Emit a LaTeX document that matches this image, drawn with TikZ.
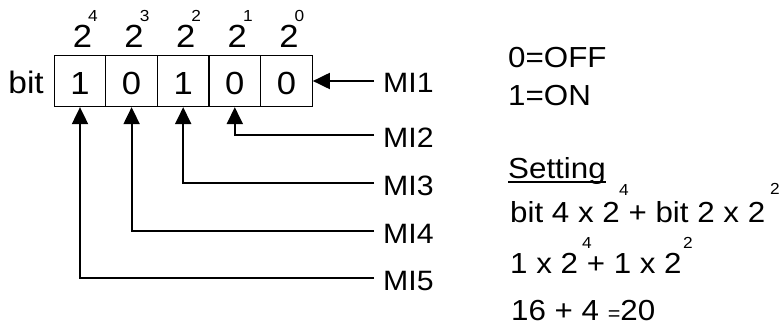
\documentclass[tikz,border=0pt]{standalone}
\usepackage{fontspec}
\setmainfont{Liberation Sans}[FakeStretch=1.08]
\usetikzlibrary{arrows.meta}
\begin{document}
\begin{tikzpicture}[x=1pt,y=-1pt,
  cell/.style={draw, line width=1.3pt, minimum width=51.6pt, minimum height=51pt,
    inner sep=0pt, text height=28pt, text depth=0pt, font=\fontsize{32}{32}\selectfont},
  pow/.style={anchor=base, inner sep=0pt, font=\fontsize{32}{32}\selectfont},
  sup/.style={anchor=base west, inner sep=0pt, font=\fontsize{16}{16}\selectfont},
  mi/.style={anchor=base west, inner sep=0pt, font=\fontsize{28}{28}\selectfont},
  txt/.style={anchor=base west, inner sep=0pt, font=\fontsize{29}{29}\selectfont},
  conn/.style={line width=2pt},
  arr/.style={conn, -{Triangle[length=17pt,width=16pt]}}]
\useasboundingbox (0,0) rectangle (781,326);
% cells
\node[cell] (c1) at (80,81) {1};
\node[cell] (c2) at (131.6,81) {0};
\node[cell] (c3) at (183.2,81) {1};
\node[cell] (c4) at (234.8,81) {0};
\node[cell] (c5) at (286.4,81) {0};
\node[anchor=base east, inner sep=0pt, font=\fontsize{31}{31}\selectfont] (bit) at (44,94) {bit};
% powers
\node[pow] (t1) at (82.5,48) {2};
\node[sup] (s1) at (88,21.5) {4};
\node[pow] (t2) at (134.1,48) {2};
\node[sup] (s2) at (139.6,21.5) {3};
\node[pow] (t3) at (185.7,48) {2};
\node[sup] (s3) at (191.2,21.5) {2};
\node[pow] (t4) at (237.3,48) {2};
\node[sup] (s4) at (242.8,21.5) {1};
\node[pow] (t5) at (288.9,48) {2};
\node[sup] (s5) at (294.4,21.5) {0};
% MI labels
\coordinate (p1) at (374,81);
\coordinate (p2) at (374,135);
\coordinate (p3) at (374,183);
\coordinate (p4) at (374,231);
\coordinate (p5) at (374,278);
\node[mi] (m1) at (383,93) {MI1};
\node[mi] (m2) at (383,147) {MI2};
\node[mi] (m3) at (383,195) {MI3};
\node[mi] (m4) at (383,243) {MI4};
\node[mi] (m5) at (383,290) {MI5};
\draw[arr] (p1) -- (c5.east);
\draw[arr] (p2) -| (c4.south);
\draw[arr] (p3) -| (c3.south);
\draw[arr] (p4) -| (c2.south);
\draw[arr] (p5) -| (c1.south);
% right text
\node[txt] (off) at (508,68) {0=OFF};
\node[txt] (on) at (508,106) {1=ON};
\node[txt] (set) at (508,178) {Setting};
\draw[line width=1.3pt] ([yshift=-4pt]set.base west) -- ([yshift=-4pt]set.base east);
\node[txt] (l2) at (510,222) {bit 4 x 2 + bit 2 x 2};
\node[sup] (l2a) at (619,195) {4};
\node[sup] (l2b) at (770,194) {2};
\node[txt] (l3) at (510,273) {1 x 2 + 1 x 2};
\node[sup] (l3a) at (582,248) {4};
\node[sup] (l3b) at (683,248) {2};
\node[txt] (l4) at (511,320) {16 + 4 {\fontsize{20}{20}\selectfont =}20};
\end{tikzpicture}
\end{document}
